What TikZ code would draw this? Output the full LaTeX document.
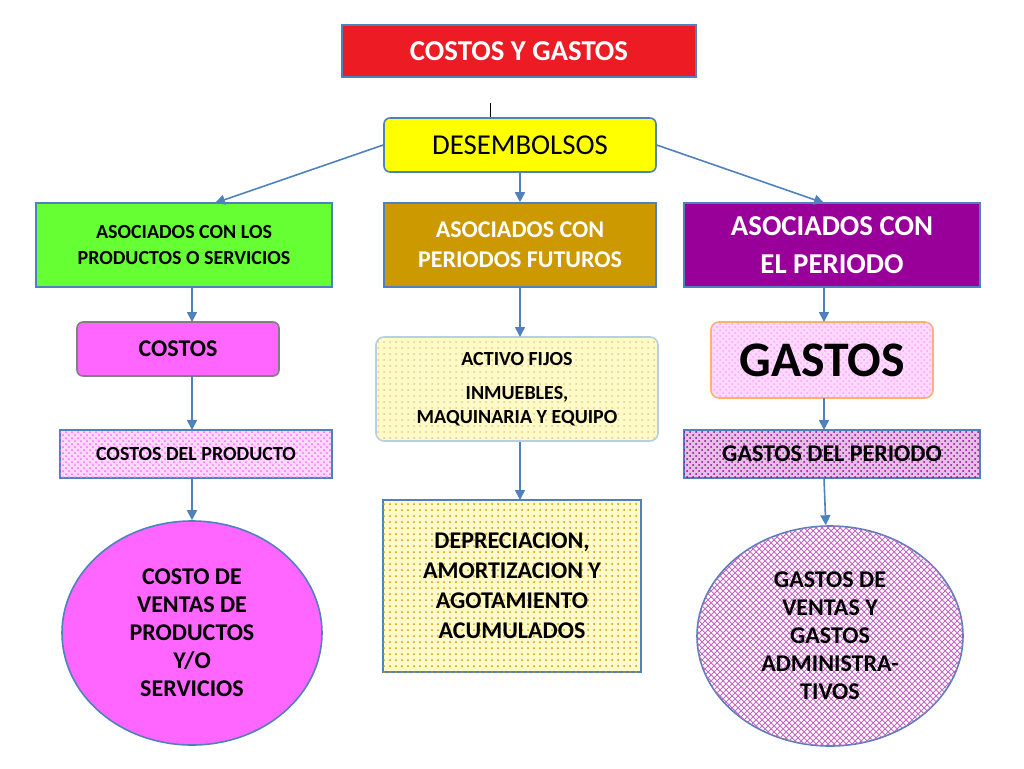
\documentclass[tikz,border=0pt]{standalone}
\usepackage{fontspec}
\setmainfont{Carlito}
\usetikzlibrary{arrows.meta,patterns,shapes.geometric}
\definecolor{rojo}{RGB}{237, 28, 36}
\definecolor{amarillo}{RGB}{255, 255, 0}
\definecolor{verde}{RGB}{102, 255, 51}
\definecolor{dorado}{RGB}{204, 153, 0}
\definecolor{morado}{RGB}{153, 0, 153}
\definecolor{rosa}{RGB}{255, 102, 255}
\definecolor{crema}{RGB}{255, 250, 200}
\definecolor{azul}{RGB}{79, 129, 189}

\tikzset{
  caja/.style={draw=azul, thick, minimum height=#1, inner sep=2pt, align=center, font=\bfseries},
  flecha/.style={-{Triangle[length=5pt,width=5pt]}, azul, thick},
}

\begin{document}
\begin{tikzpicture}[x=0.5pt, y=-0.5pt]
            \useasboundingbox (0,0) rectangle (1024,768);
            % fila superior
            \node[caja=26pt, fill=rojo, text=black, minimum width=177pt, font=\bfseries\Large] (titulo) at (519,51) {\textcolor{white}{COSTOS Y GASTOS}};
            \draw (490,103) -- (490,118);
            \node[caja=27pt, fill=amarillo, rounded corners=3pt, minimum width=136pt, font=\Large] (desembolsos) at (520,145) {DESEMBOLSOS};
            % asociados
            \node[caja=42pt, fill=verde, minimum width=148pt, font=\bfseries\normalsize] (productos) at (184,245) {ASOCIADOS CON LOS\\[1pt]PRODUCTOS O SERVICIOS};
            \node[caja=42pt, fill=dorado, text=white, minimum width=136pt, font=\bfseries\large] (futuros) at (520,245) {ASOCIADOS CON\\[1pt]PERIODOS FUTUROS};
            \node[caja=42pt, fill=morado, text=white, minimum width=148pt, font=\bfseries\Large] (periodo) at (832,245) {ASOCIADOS CON\\[1pt]EL PERIODO};
            % segunda fila
            \node[caja=27pt, fill=rosa, draw=gray, rounded corners=3pt, minimum width=101pt, font=\bfseries\large] (costos) at (178,349) {COSTOS};
            \node[caja=52pt, fill=crema, draw=azul!40, rounded corners=4pt, minimum width=141pt, font=\bfseries\normalsize, postaction={pattern=dots, pattern color=dorado!50}] (activo) at (517,389) {ACTIVO FIJOS\\[5pt]INMUEBLES,\\MAQUINARIA Y EQUIPO};
            \node[caja=38pt, fill=rosa!25, draw=orange!60, rounded corners=4pt, minimum width=111pt, font=\bfseries\Huge, postaction={pattern=crosshatch dots, pattern color=rosa!60}] (gastos) at (822,360) {GASTOS};
            % tercera fila
            \node[caja=24pt, fill=rosa!25, minimum width=136pt, font=\bfseries\normalsize, postaction={pattern=crosshatch dots, pattern color=rosa}] (cproducto) at (196,454) {COSTOS DEL PRODUCTO};
            \node[caja=24pt, fill=morado!25, minimum width=148pt, font=\bfseries\large, postaction={pattern=crosshatch dots, pattern color=morado}] (gperiodo) at (832,454) {GASTOS DEL PERIODO};
            \node[caja=86pt, fill=crema, minimum width=129pt, font=\bfseries\large, postaction={pattern=dots, pattern color=dorado}] (depreciacion) at (512,586) {DEPRECIACION,\\[1pt]AMORTIZACION Y\\[1pt]AGOTAMIENTO\\[1pt]ACUMULADOS};
            % elipses
            \node[ellipse, draw=azul, thick, fill=rosa, minimum width=130pt, minimum height=112pt, inner sep=-6pt, align=center, font=\bfseries\large] (cventas) at (192,633) {COSTO DE\\[0pt]VENTAS DE\\[0pt]PRODUCTOS\\[0pt]Y/O\\[0pt]SERVICIOS};
            \node[ellipse, draw=azul, thick, fill=white, minimum width=133pt, minimum height=110pt, inner sep=-6pt, align=center, font=\bfseries\large, postaction={pattern=crosshatch, pattern color=morado!60}] (gventas) at (830,636) {GASTOS DE\\[0pt]VENTAS Y\\[0pt]GASTOS\\[0pt]ADMINISTRA-\\[0pt]TIVOS};
            % flechas
            \draw[flecha] (desembolsos.west) -- (215,203);
            \draw[flecha] (desembolsos) -- (futuros);
            \draw[flecha] (desembolsos.east) -- (824,203);
            \draw[flecha] (192,287) -- (192,322);
            \draw[flecha] (520,287) -- (520,337);
            \draw[flecha] (824,287) -- (824,322);
            \draw[flecha] (192,376) -- (192,430);
            \draw[flecha] (520,442) -- (520,500);
            \draw[flecha] (824,398) -- (824,430);
            \draw[flecha] (192,478) -- (cventas);
            \draw[flecha] (824,478) -- (gventas);
        \end{tikzpicture}
\end{document}
